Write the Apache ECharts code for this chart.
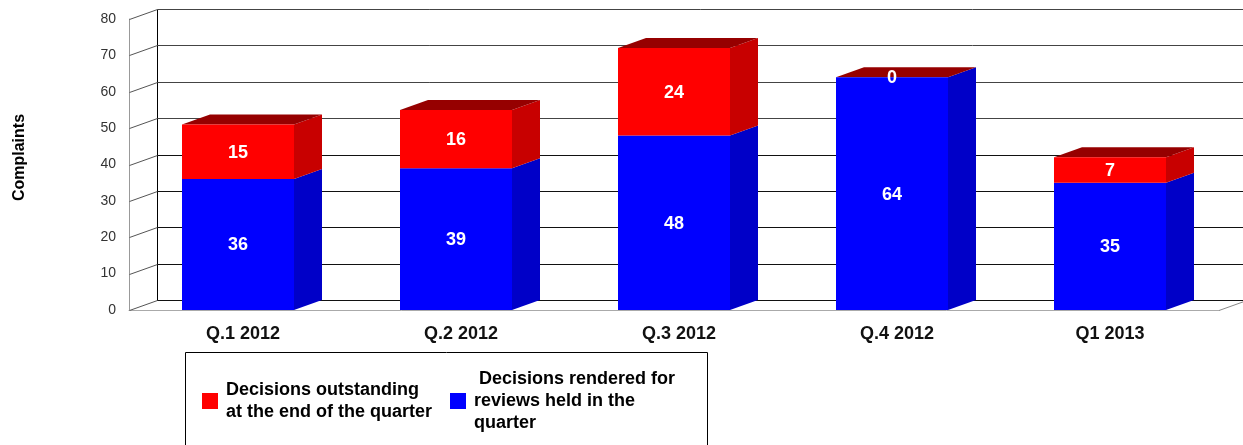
<!DOCTYPE html>
<html><head><meta charset="utf-8">
<style>html,body{margin:0;padding:0;background:#fff}#c{width:1243px;height:445px}</style>
<script src="https://cdn.jsdelivr.net/npm/echarts@6/dist/echarts.min.js"></script>
</head><body><div id="c"></div>
<script>
const categories = ['Q.1 2012','Q.2 2012','Q.3 2012','Q.4 2012','Q1 2013'];
const rendered = [36,39,48,64,35];
const outstanding = [15,16,24,0,7];
const ticks = [0,10,20,30,40,50,60,70,80];
const nameOut = 'Decisions outstanding\nat the end of the quarter';
const nameRen = ' Decisions rendered for\nreviews held in the\nquarter';
const DX = 28, DY = -10;
const font = '"Liberation Sans", Arial, sans-serif';
const chart = echarts.init(document.getElementById('c'), null, {renderer:'canvas'});
function poly(points, fill){
  return {type:'polygon', shape:{points}, style:{fill, stroke:null}};
}
function line(x1,y1,x2,y2,stroke){
  return {type:'line', shape:{x1,y1,x2,y2}, style:{stroke, lineWidth:1}};
}
const faceData = categories.map((c,i)=>[i, rendered[i], outstanding[i]]);
chart.setOption({
  animation:false,
  backgroundColor:'#fff',
  grid:{left:129,right:24,top:19,bottom:135,containLabel:false,outerBoundsMode:'none'},
  graphic:[{type:'rect',z:0,shape:{x:185.5,y:352.5,width:522,height:140},style:{fill:'#fff',stroke:'#000',lineWidth:1}}],
  legend:{
    left:202,top:368,itemWidth:16,itemHeight:16,itemGap:18,icon:'rect',padding:0,
    selectedMode:false,
    data:[nameOut,nameRen],
    textStyle:{fontFamily:font,fontWeight:'bold',fontSize:18,color:'#000',lineHeight:22,padding:[0,0,0,3]}
  },
  xAxis:{type:'category',data:categories,
    axisLine:{show:true,lineStyle:{color:'#aaa',width:1}},axisTick:{show:false},
    axisLabel:{fontFamily:font,fontWeight:'bold',fontSize:18,color:'#111',margin:15,
      formatter:v=>v.startsWith('Q.')?'\u00a0\u00a0'+v:v}},
  yAxis:{type:'value',min:0,max:80,interval:10,
    name:'Complaints',nameLocation:'middle',nameGap:101,
    nameTextStyle:{fontFamily:font,fontWeight:'bold',fontSize:16,color:'#000',padding:[0,0,0,14]},
    axisLine:{show:true,lineStyle:{color:'#999',width:1}},axisTick:{show:false},splitLine:{show:false},
    axisLabel:{fontFamily:font,fontSize:14,color:'#333',margin:13}},
  series:[
    {type:'custom',name:'wall',silent:true,z:1,clip:false,
      data:ticks.map(t=>[0,t]),encode:{x:0,y:1},
      renderItem(params,api){
        const g=params.coordSys, v=api.value(1), y=Math.round(api.coord([0,v])[1])+0.5;
        const x0=g.x+0.5, xb=x0+DX, xr=g.x+g.width;
        const kids=[line(x0,y,xb,y+DY,'#555'), line(xb,y+DY,xr+DX,y+DY,v>=50?'#444':'#111')];
        if(v===0){
          const yt=Math.round(api.coord([0,ticks[ticks.length-1]])[1])+0.5;
          kids.push(line(xb,y+DY,xb,yt+DY,'#000'));
          kids.push(line(xr,y,xr+DX,y+DY,'#888'));
        }
        return {type:'group',children:kids};
      }},
    {type:'custom',name:'depth',silent:true,z:2,clip:false,
      data:faceData,encode:{x:0,y:[1,2]},
      renderItem(params,api){
        const i=api.value(0), a=api.value(1), b=api.value(2);
        const w=112, cx=api.coord([i,0])[0], xr=cx+w/2, xl=cx-w/2;
        const y0=api.coord([i,0])[1], ya=api.coord([i,a])[1], yb=api.coord([i,a+b])[1];
        return {type:'group',children:[
          poly([[xr,y0],[xr+DX,y0+DY],[xr+DX,ya+DY],[xr,ya]],'#0000c8'),
          poly([[xr,ya],[xr+DX,ya+DY],[xr+DX,yb+DY],[xr,yb]],'#c80000'),
          poly([[xl,yb],[xl+DX,yb+DY],[xr+DX,yb+DY],[xr,yb]],'#960000')
        ]};
      }},
    {type:'bar',name:nameRen,stack:'t',barWidth:112,z:3,data:rendered,
      itemStyle:{color:'#0000ff'},
      label:{show:true,position:'inside',offset:[0,1],fontFamily:font,fontWeight:'bold',fontSize:18,color:'#fff'}},
    {type:'bar',name:nameOut,stack:'t',barWidth:112,z:4,data:outstanding,
      itemStyle:{color:'#ff0000'},
      label:{show:true,position:'inside',offset:[0,1],fontFamily:font,fontWeight:'bold',fontSize:18,color:'#fff'}}
  ]
});
</script></body></html>
